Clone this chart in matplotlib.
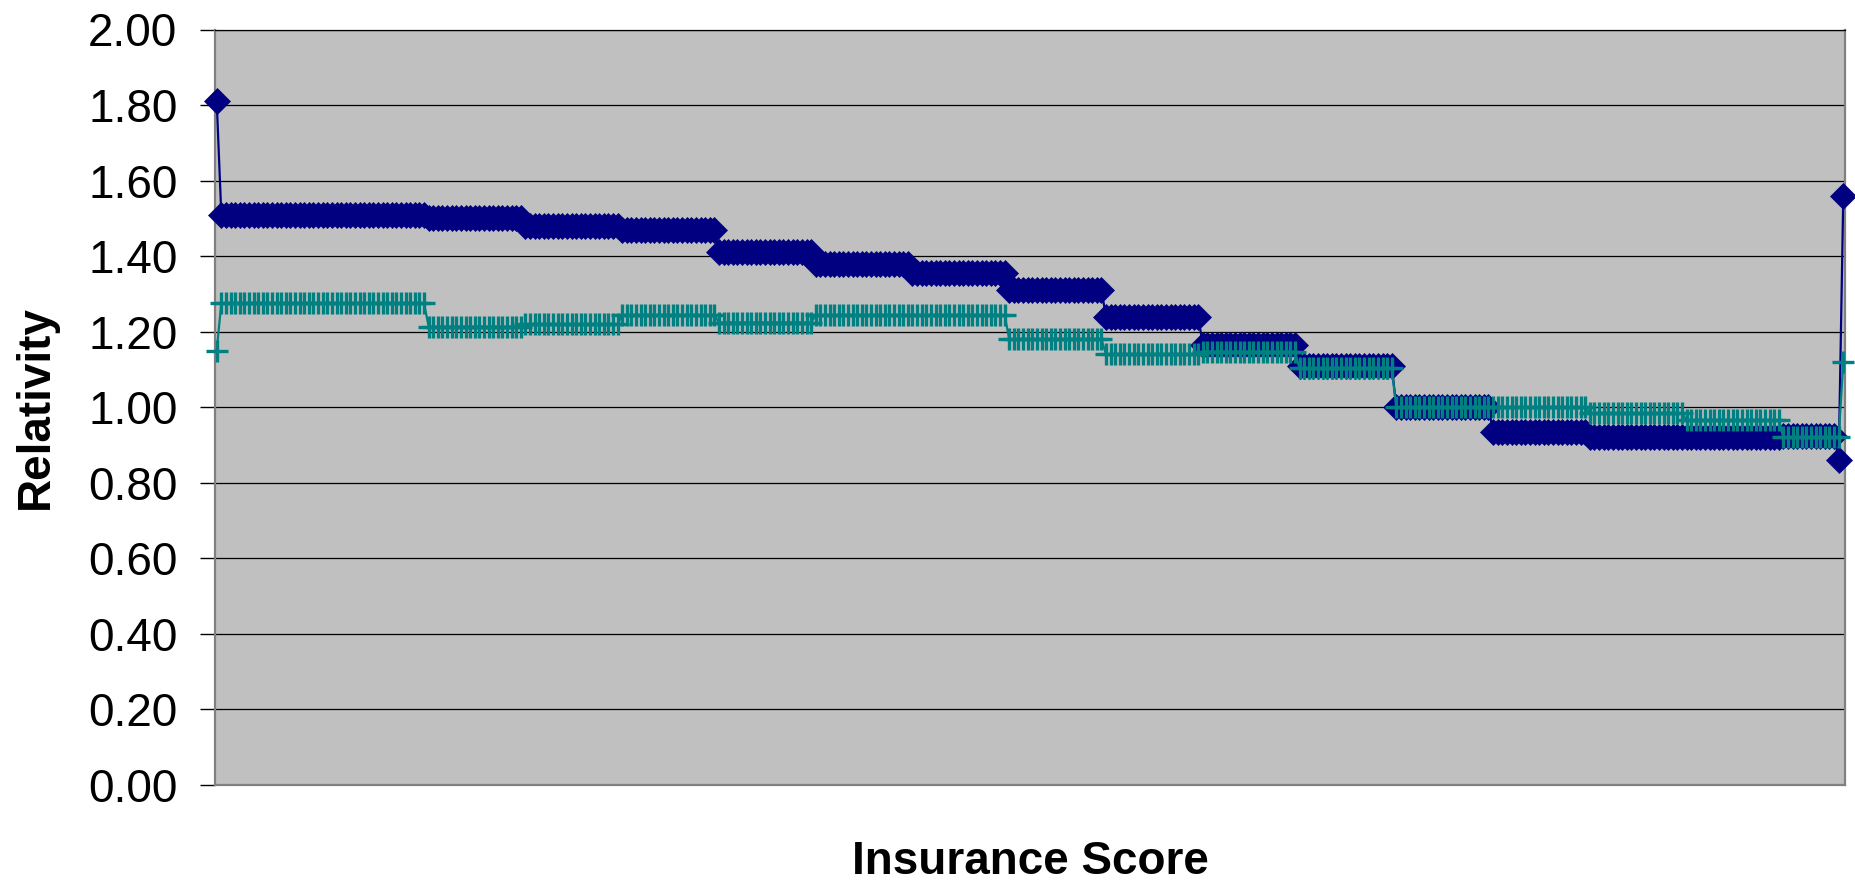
import numpy as np
import matplotlib
matplotlib.use("Agg")
import matplotlib.pyplot as plt

plt.rcParams['font.family'] = ['Liberation Sans', 'DejaVu Sans']

# Relativity by insurance-score band; each band holds `band_sizes` consecutive scores
band_sizes = [1, 45, 21, 21, 21, 21, 21, 21, 21, 21, 21, 21, 21, 21, 21, 21, 12, 1, 1]
relativity_a = [1.81, 1.51, 1.50, 1.48, 1.47, 1.41, 1.38, 1.355, 1.31, 1.24, 1.165,
                1.11, 1.00, 0.935, 0.92, 0.92, 0.925, 0.86, 1.56]
relativity_b = [1.15, 1.275, 1.213, 1.22, 1.244, 1.224, 1.244, 1.244, 1.18, 1.14, 1.147,
                1.103, 1.00, 1.00, 0.984, 0.966, 0.92, 0.92, 1.12]
y_ticks = [0.0, 0.2, 0.4, 0.6, 0.8, 1.0, 1.2, 1.4, 1.6, 1.8, 2.0]

series_a = np.repeat(relativity_a, band_sizes)
series_b = np.repeat(relativity_b, band_sizes)
score = np.arange(len(series_a))

W, H = 1856, 885
fig = plt.figure(figsize=(W / 100, H / 100), dpi=100)
ax = fig.add_axes([215 / W, 1 - 785 / H, (1845 - 215) / W, (785 - 29.5) / H])
ax.set_facecolor('#C0C0C0')

ax.plot(score, series_a, color='#000080', lw=1.6, marker='D', ms=13.5,
        markerfacecolor='#000080', markeredgecolor='#000080', markeredgewidth=0.5,
        zorder=3, clip_on=False)
ax.plot(score, series_b, color='#008080', lw=1.6, marker='+', ms=16.5,
        markeredgecolor='#008080', markeredgewidth=2.4, zorder=4, clip_on=False)

ax.set_xlim(-0.37, len(score) - 1 + 0.37)
ax.set_ylim(0, 2.0)
ax.set_yticks(y_ticks)
ax.set_yticklabels([f"{v:.2f}" for v in y_ticks])
ax.set_xticks([])
ax.yaxis.grid(True, color='#000000', lw=0.9)
ax.set_axisbelow(True)
ax.tick_params(axis='y', direction='out', length=11, width=1, color='#000000',
               labelsize=33, pad=16)

for side in ('left', 'bottom', 'right'):
    ax.spines[side].set_color('#808080')
    ax.spines[side].set_linewidth(1.6)
ax.spines['top'].set_color('#000000')
ax.spines['top'].set_linewidth(0.9)

fig.text(1030 / W, 1 - 862 / H, 'Insurance Score', ha='center', va='center',
         fontsize=33, fontweight='bold')
fig.text(36 / W, 1 - 407 / H, 'Relativity', ha='center', va='center',
         rotation=90, fontsize=33, fontweight='bold')

fig.savefig('out.png', dpi=100, facecolor='white')
